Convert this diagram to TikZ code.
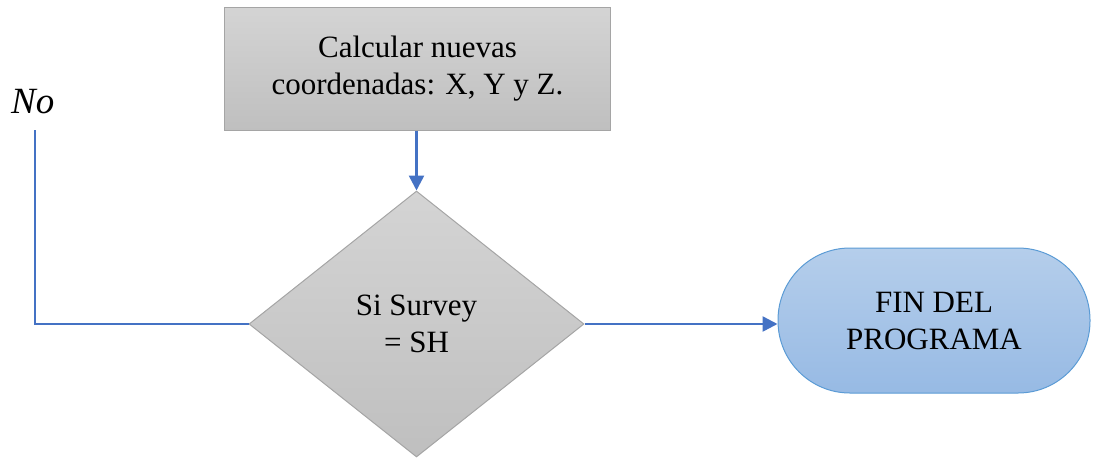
\documentclass[tikz,border=0pt]{standalone}
\usepackage{fontspec}
\setmainfont{Liberation Serif}
\usetikzlibrary{shapes.geometric,arrows.meta}
\definecolor{lineblue}{HTML}{4472C4}
\definecolor{termborder}{HTML}{5B9BD5}
\definecolor{termtop}{HTML}{B5CEEB}
\definecolor{termbot}{HTML}{97BAE4}
\definecolor{graytop}{HTML}{D4D4D4}
\definecolor{graybot}{HTML}{BFBFBF}
\definecolor{grayborder}{HTML}{A5A5A5}
\begin{document}
\begin{tikzpicture}[x=1pt,y=-1pt,
  txt/.style={font=\fontsize{31}{37}\selectfont, align=center},
  procbox/.style={txt, draw=grayborder, line width=1pt, top color=graytop, bottom color=graybot,
    minimum width=386pt, minimum height=123pt, inner sep=0pt},
  decbox/.style={txt, diamond, draw=grayborder, line width=1pt, top color=graytop, bottom color=graybot,
    minimum width=335pt, minimum height=266pt, inner sep=0pt, aspect=1.26},
  termbox/.style={txt, draw=termborder, line width=1pt, top color=termtop, bottom color=termbot,
    rounded corners=72pt, minimum width=312pt, minimum height=145pt, inner sep=0pt},
  conn/.style={draw=lineblue, line width=2.5pt},
  arr/.style={conn, -{Triangle[length=15pt,width=15pt]}}
]
\useasboundingbox (0,0) rectangle (1094,459);
\node[procbox] (calc) at (417.5,68.5) {Calcular nuevas\\coordenadas: X, Y y Z.};
\node[decbox] (dec) at (416.5,324) {Si Survey\\= SH};
\node[termbox] (fin) at (934,320.5) {FIN DEL\\PROGRAMA};
\node[font=\fontsize{37}{44}\selectfont\itshape, anchor=base west, inner sep=0pt] (no) at (11,113) {No};
\coordinate (notop) at (35,130);
\coordinate (nocorner) at (notop |- dec.west);
\draw[arr] (calc.south -| dec.north) -- (dec.north);
\draw[arr] (dec.east) -- (dec.east -| fin.west);
\draw[conn] (dec.west) -- (nocorner) -- (notop);
\end{tikzpicture}
\end{document}
